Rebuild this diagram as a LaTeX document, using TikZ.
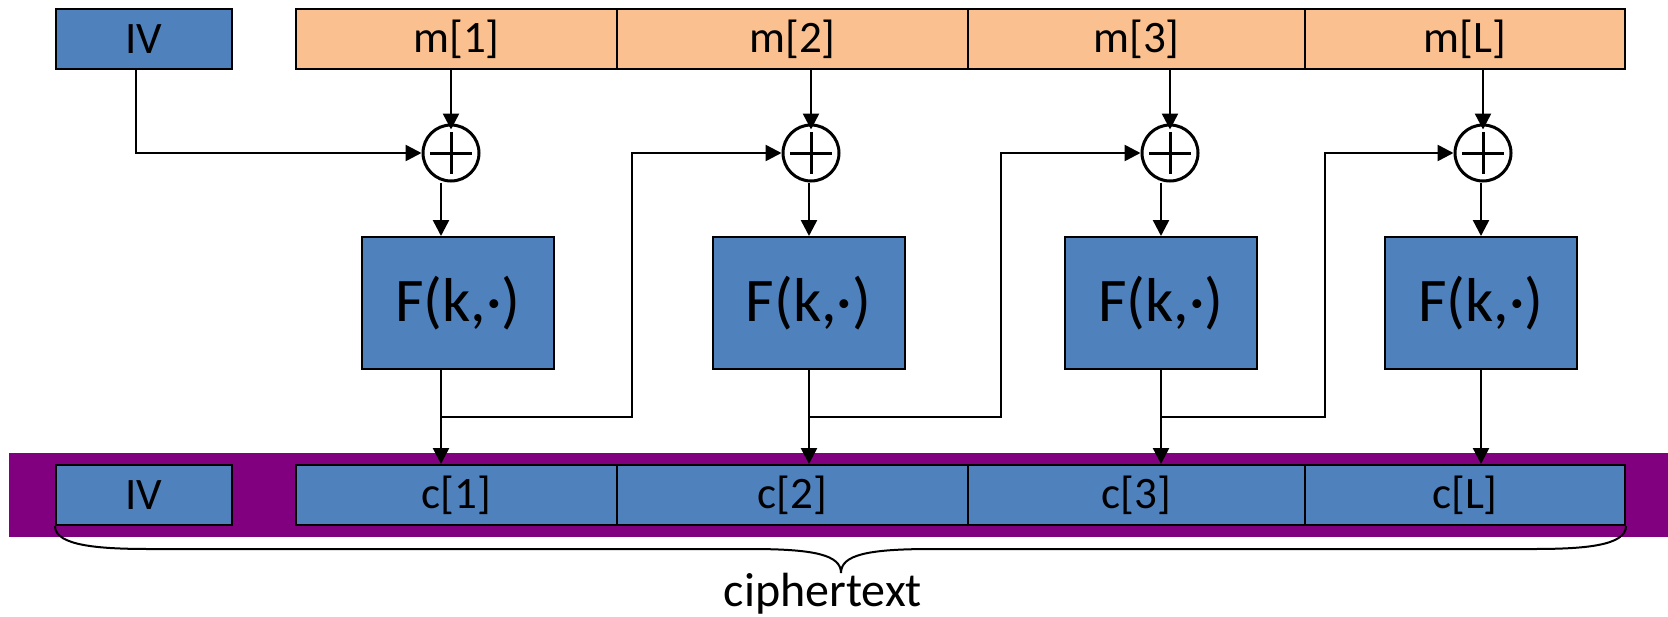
\documentclass[tikz,border=0pt]{standalone}
\usepackage{fontspec}
\setmainfont{Carlito}
\usetikzlibrary{arrows.meta,calc}
\definecolor{boxblue}{HTML}{4F81BD}
\definecolor{msgorange}{HTML}{FAC090}
\definecolor{band}{HTML}{800080}
\begin{document}
\begin{tikzpicture}[x=1pt,y=-1pt,
  cell/.style={draw, line width=2pt, minimum height=60pt, inner sep=0pt, font=\fontsize{45}{48}\selectfont},
  fbox/.style={draw, line width=2pt, fill=boxblue, minimum width=192pt, minimum height=132pt, inner sep=0pt, font=\fontsize{62}{66}\selectfont},
  xorn/.style={circle, draw, line width=3pt, minimum size=56pt, inner sep=0pt,
    path picture={\draw[line width=3pt] ([yshift=-7pt]path picture bounding box.north) -- ([yshift=7pt]path picture bounding box.south);
                  \draw[line width=3pt] ([xshift=7pt]path picture bounding box.west) -- ([xshift=-7pt]path picture bounding box.east);}},
  conn/.style={line width=2.5pt},
  arr/.style={line width=2.5pt, -{Triangle[length=16pt,width=16pt]}},
  lbl/.style={font=\fontsize{48}{52}\selectfont, inner sep=0pt}]
\useasboundingbox (0,0) rectangle (1668,616);
% purple band
\fill[band] (9,453) rectangle (1668,537);
% top row
\node[cell, fill=boxblue, minimum width=176pt] (ivt) at (144,39) {IV};
\node[cell, fill=msgorange, minimum width=321pt] (m1) at (456.5,39) {m[1]};
\node[cell, fill=msgorange, minimum width=351pt] (m2) at (792.5,39) {m[2]};
\node[cell, fill=msgorange, minimum width=337pt] (m3) at (1136.5,39) {m[3]};
\node[cell, fill=msgorange, minimum width=320pt] (mL) at (1465,39) {m[L]};
% bottom row
\node[cell, fill=boxblue, minimum width=176pt] (ivb) at (144,495) {IV};
\node[cell, fill=boxblue, minimum width=321pt] (c1) at (456.5,495) {c[1]};
\node[cell, fill=boxblue, minimum width=351pt] (c2) at (792.5,495) {c[2]};
\node[cell, fill=boxblue, minimum width=337pt] (c3) at (1136.5,495) {c[3]};
\node[cell, fill=boxblue, minimum width=320pt] (cL) at (1465,495) {c[L]};
% xor nodes
\node[xorn] (x1) at (451,153) {};
\node[xorn] (x2) at (811,153) {};
\node[xorn] (x3) at (1170,153) {};
\node[xorn] (x4) at (1483,153) {};
% F boxes
\node[fbox] (F1) at (458,303) {F(k,·)};
\node[fbox] (F2) at (808.5,303) {F(k,·)};
\node[fbox] (F3) at (1161,303) {F(k,·)};
\node[fbox] (F4) at (1481,303) {F(k,·)};
% column x coordinates
\coordinate (a1) at (441,0);
\coordinate (a2) at (809,0);
\coordinate (a3) at (1161,0);
\coordinate (a4) at (1481,0);
\coordinate (ivx) at (136,0);
\coordinate (b1) at (632,417);
\coordinate (b2) at (1001,417);
\coordinate (b3) at (1325,417);
% message to xor
\draw[arr, shorten >=-6pt] (m1.south -| x1) -- (x1.north);
\draw[arr, shorten >=-6pt] (m2.south -| x2) -- (x2.north);
\draw[arr, shorten >=-6pt] (m3.south -| x3) -- (x3.north);
\draw[arr, shorten >=-6pt] (mL.south -| x4) -- (x4.north);
% xor to F
\draw[arr] (x1.south -| a1) -- (F1.north -| a1);
\draw[arr] (x2.south -| a2) -- (F2.north -| a2);
\draw[arr] (x3.south -| a3) -- (F3.north -| a3);
\draw[arr] (x4.south -| a4) -- (F4.north -| a4);
% F to c
\draw[arr] (F1.south -| a1) -- (c1.north -| a1);
\draw[arr] (F2.south -| a2) -- (c2.north -| a2);
\draw[arr] (F3.south -| a3) -- (c3.north -| a3);
\draw[arr] (F4.south -| a4) -- (cL.north -| a4);
% chaining
\draw[arr] (ivt.south -| ivx) |- (x1.west);
\draw[arr] (a1 |- b1) -- (b1) |- (x2.west);
\draw[arr] (a2 |- b2) -- (b2) |- (x3.west);
\draw[arr] (a3 |- b3) -- (b3) |- (x4.west);
% brace
\coordinate (bl) at (ivb.south west);
\coordinate (brr) at (cL.south east);
\coordinate (tip) at (841,573);
\draw[line width=2pt] (bl) .. controls ($(bl)+(0,20)$) and (100,549) .. (150,549) -- (750,549)
   .. controls (815,549) and (841,555) .. (tip)
   .. controls (841,555) and (867,549) .. (932,549) -- (1533,549)
   .. controls (1583,549) and ($(brr)+(0,20)$) .. (brr);
\node[lbl] (ct) at (823,594) {ciphertext};
\end{tikzpicture}
\end{document}
